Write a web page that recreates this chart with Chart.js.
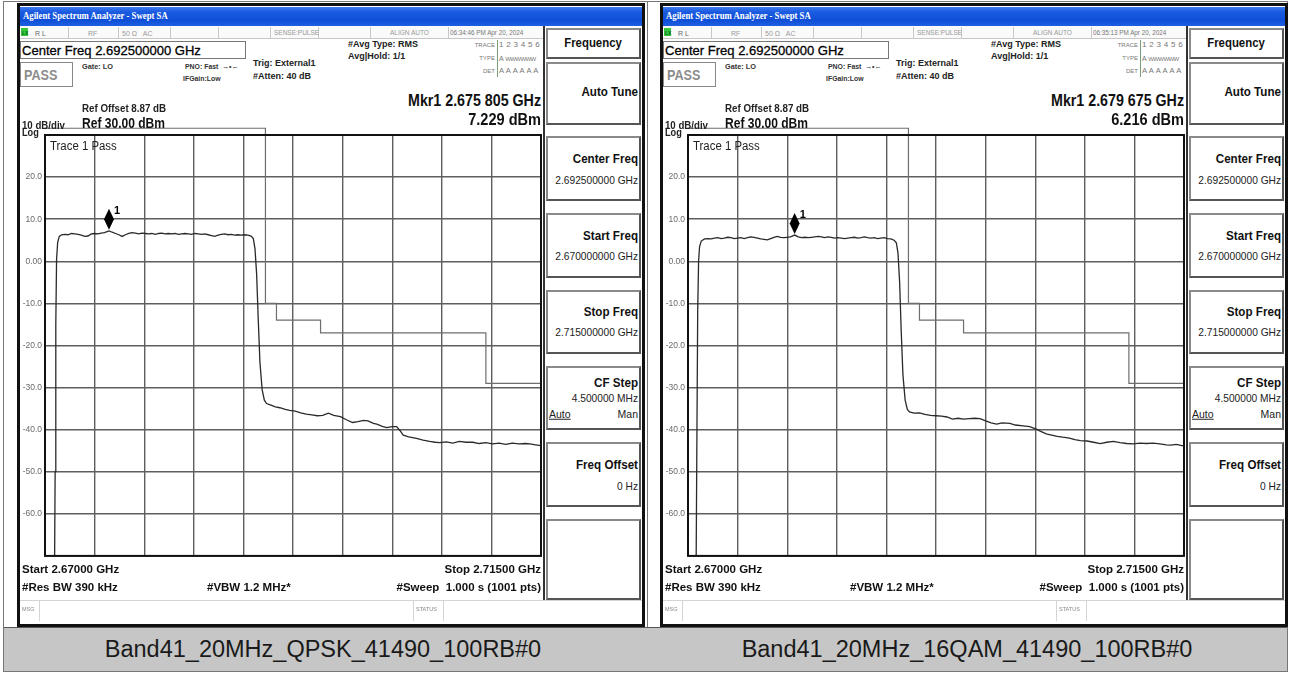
<!DOCTYPE html>
<html><head><meta charset="utf-8">
<script src="https://cdn.jsdelivr.net/npm/chart.js@4"></script>
<style>
html,body{margin:0;padding:0;background:#fff}
body{width:1290px;height:673px;position:relative;overflow:hidden;font-family:"Liberation Sans",Arial,sans-serif}
.a{position:absolute}
.t{position:absolute;white-space:nowrap;line-height:1;font-family:"Liberation Sans Narrow","Liberation Sans",Arial,sans-serif;font-weight:bold;color:#111}
.t span.s{display:inline-block}
.sk{position:absolute;box-sizing:border-box;border:2px solid #8a8a8a;border-right-color:#555;border-bottom-color:#555;background:#fff}
canvas{position:absolute;z-index:1}
.ov{z-index:2}
</style></head>
<body>
<script>
// ---------- data ----------
const xGridTicks = [2670, 2674.5, 2679, 2683.5, 2688, 2692.5, 2697, 2701.5, 2706, 2710.5, 2715];
const yGridTicks = [30, 20, 10, 0, -10, -20, -30, -40, -50, -60, -70];
const yTickLabels = ['', '20.0', '10.0', '0.00', '-10.0', '-20.0', '-30.0', '-40.0', '-50.0', '-60.0', ''];

const qpskFreq = [2670.0, 2670.85, 2670.92, 2670.98, 2671.05, 2671.15, 2671.3, 2671.5, 2671.8, 2672.1, 2672.4, 2672.7, 2673.0, 2673.3, 2673.6, 2673.9, 2674.2, 2674.5, 2674.8, 2675.1, 2675.4, 2675.8, 2676.1, 2676.4, 2676.7, 2677.0, 2677.3, 2677.6, 2677.9, 2678.2, 2678.5, 2678.8, 2679.1, 2679.4, 2679.7, 2680.0, 2680.3, 2680.6, 2680.9, 2681.2, 2681.5, 2681.8, 2682.1, 2682.4, 2682.7, 2683.0, 2683.3, 2683.6, 2683.9, 2684.2, 2684.5, 2684.8, 2685.1, 2685.4, 2685.7, 2686.0, 2686.3, 2686.6, 2686.9, 2687.2, 2687.5, 2687.8, 2688.1, 2688.4, 2688.7, 2688.9, 2689.05, 2689.2, 2689.35, 2689.5, 2689.7, 2689.9, 2690.1, 2690.5, 2690.9, 2691.3, 2691.8, 2692.2, 2692.7, 2693.2, 2693.7, 2694.2, 2694.7, 2695.2, 2695.7, 2696.2, 2696.8, 2697.3, 2697.9, 2698.4, 2698.9, 2699.3, 2699.8, 2700.1, 2700.6, 2701.0, 2701.5, 2701.9, 2702.2, 2702.5, 2703.0, 2703.7, 2704.3, 2704.9, 2705.4, 2705.8, 2706.4, 2707.0, 2707.6, 2708.2, 2708.8, 2709.4, 2710.0, 2710.6, 2711.2, 2711.8, 2712.4, 2713.0, 2713.6, 2714.0, 2714.5, 2715.0];
const qpskLevel = [-80, -80, -50, -15, 0.5, 4.5, 5.9, 6.3, 6.4, 6.3, 6.6, 6.5, 6.4, 6.2, 5.9, 6.0, 6.5, 6.6, 6.5, 6.7, 6.8, 7.23, 6.9, 6.6, 6.3, 5.9, 6.3, 6.6, 6.8, 6.7, 6.5, 6.7, 6.6, 6.5, 6.6, 6.4, 6.6, 6.7, 6.5, 6.6, 6.5, 6.6, 6.4, 6.5, 6.6, 6.5, 6.4, 6.6, 6.5, 6.4, 6.5, 6.3, 6.1, 5.9, 6.2, 6.4, 6.5, 6.3, 6.4, 6.2, 6.3, 6.2, 6.3, 6.2, 6.0, 5.4, 3.0, -3, -14, -24, -30.5, -33.0, -33.8, -34.2, -34.6, -34.8, -35.2, -35.4, -35.6, -36.0, -36.3, -36.5, -36.7, -36.6, -36.1, -36.6, -36.9, -37.6, -38.3, -38.1, -37.8, -37.9, -38.5, -38.7, -39.2, -39.5, -39.3, -39.3, -40.2, -41.3, -41.7, -42.1, -42.5, -42.8, -43.0, -43.1, -42.9, -43.2, -42.8, -43.0, -43.0, -43.3, -43.1, -43.4, -43.2, -43.5, -43.2, -43.4, -43.3, -43.4, -43.6, -43.8];

const qamFreq = [2670.0, 2670.72, 2670.8, 2670.88, 2670.96, 2671.05, 2671.2, 2671.5, 2671.8, 2672.1, 2672.4, 2672.7, 2673.0, 2673.3, 2673.6, 2673.9, 2674.2, 2674.5, 2674.8, 2675.1, 2675.4, 2675.7, 2676.0, 2676.3, 2676.6, 2676.9, 2677.2, 2677.5, 2677.8, 2678.1, 2678.4, 2678.7, 2679.0, 2679.3, 2679.68, 2680.0, 2680.3, 2680.6, 2680.9, 2681.2, 2681.5, 2681.8, 2682.1, 2682.4, 2682.7, 2683.0, 2683.3, 2683.6, 2683.9, 2684.2, 2684.5, 2684.8, 2685.1, 2685.4, 2685.7, 2686.0, 2686.3, 2686.6, 2686.9, 2687.2, 2687.5, 2687.8, 2688.1, 2688.4, 2688.7, 2688.9, 2689.05, 2689.2, 2689.35, 2689.5, 2689.7, 2689.9, 2690.1, 2690.5, 2691.0, 2691.5, 2692.0, 2692.5, 2693.0, 2693.5, 2694.0, 2694.5, 2695.0, 2695.5, 2696.0, 2696.5, 2697.0, 2697.5, 2698.0, 2698.5, 2699.2, 2699.7, 2700.4, 2701.0, 2701.6, 2702.0, 2702.5, 2703.0, 2703.5, 2704.0, 2704.6, 2705.1, 2705.6, 2706.2, 2706.8, 2707.4, 2708.0, 2708.6, 2709.2, 2709.8, 2710.4, 2711.0, 2711.6, 2712.2, 2712.8, 2713.4, 2713.8, 2714.3, 2714.8, 2715.0];
const qamLevel = [-80, -80, -45, -12, 0, 3.5, 4.8, 5.3, 5.4, 5.3, 5.5, 5.6, 5.4, 5.5, 5.7, 5.6, 5.4, 5.5, 5.6, 5.4, 5.6, 5.8, 5.7, 5.5, 5.3, 5.2, 5.1, 5.4, 5.7, 5.9, 5.7, 5.6, 5.7, 5.8, 6.22, 5.8, 5.6, 5.7, 5.6, 5.7, 5.8, 5.9, 5.8, 5.6, 5.8, 5.7, 5.5, 5.6, 5.5, 5.4, 5.5, 5.6, 5.7, 5.5, 5.6, 5.8, 5.6, 5.5, 5.6, 5.4, 5.5, 5.6, 5.4, 5.3, 5.0, 4.4, 2.0, -5, -17, -27, -33, -35.2, -35.8, -36.1, -36.0, -36.4, -36.6, -36.7, -36.8, -37.0, -37.5, -37.3, -37.5, -37.4, -37.3, -37.4, -37.9, -38.4, -38.7, -38.4, -38.5, -38.9, -39.1, -39.3, -39.9, -40.4, -41.0, -41.3, -41.6, -41.8, -42.0, -42.4, -42.6, -42.7, -43.0, -43.3, -43.0, -42.8, -43.1, -43.3, -43.4, -43.2, -43.3, -43.2, -43.4, -43.6, -43.7, -43.5, -43.8, -43.8];

const limitFreq = [2670, 2690, 2690, 2691, 2691, 2695, 2695, 2710, 2710, 2715];
const limitLevel = [31.6, 31.6, -10, -10, -14, -14, -17, -17, -29, -29];

const markerFreq = [2675.805, 2679.675];
const markerLevel = [7.229, 6.216];
const markerFreqText = ['Mkr1 2.675 805 GHz', 'Mkr1 2.679 675 GHz'];
const markerLevelText = ['7.229 dBm', '6.216 dBm'];
const timestamps = ['06:34:46 PM Apr 20, 2024', '06:35:13 PM Apr 20, 2024'];
const captions = ['Band41_20MHz_QPSK_41490_100RB#0', 'Band41_20MHz_16QAM_41490_100RB#0'];
const traces = [[qpskFreq, qpskLevel], [qamFreq, qamLevel]];
const panelShift = [0, 643];

// ---------- helpers ----------
function el(cls, css, html) {
  const d = document.createElement('div');
  d.className = cls;
  d.style.cssText = css;
  if (html !== undefined) d.innerHTML = html;
  document.body.appendChild(d);
  return d;
}
// text placed with vertical centre at y; align l / r / c; sx = horizontal squeeze
function tx(x, y, s, size, align, extra, sx) {
  const ax = align === 'r' ? '-100%' : (align === 'c' ? '-50%' : '0');
  const org = align === 'r' ? 'right' : (align === 'c' ? 'center' : 'left');
  const k = sx || 1;
  return el('t ov', `left:${x}px;top:${y}px;font-size:${size}px;transform:translate(${ax},-50%);${extra||''}`,
    `<span class="s" style="transform:scaleX(${k});transform-origin:${org} center">${s}</span>`);
}
const thin = 'font-weight:normal;color:#888;font-family:"Liberation Sans",Arial;';

// table frame
el('a', 'left:3px;top:1px;width:1283px;height:669px;border:1px solid #777;');
el('a', 'left:647px;top:1px;width:1px;height:670px;background:#777;');
el('a', 'left:4px;top:627px;width:1283px;height:43px;background:#c6c6c6;border-top:1px solid #555;');

const markerPlugin = {
  id: 'mkr',
  afterDatasetsDraw(chart, args, opts) {
    const c = chart.ctx, a = chart.chartArea;
    c.save();
    c.strokeStyle = '#111'; c.lineWidth = 2;
    c.strokeRect(a.left, a.top, a.right - a.left, a.bottom - a.top);
    const i = opts.index;
    const x = chart.scales.x.getPixelForValue(markerFreq[i]);
    const y = chart.scales.y.getPixelForValue(markerLevel[i]);
    c.fillStyle = '#000';
    c.beginPath();
    c.moveTo(x, y - 1);
    c.lineTo(x + 5, y - 11.5);
    c.lineTo(x, y - 22);
    c.lineTo(x - 5, y - 11.5);
    c.closePath();
    c.fill();
    c.font = 'bold 11px "Liberation Sans",Arial';
    c.textBaseline = 'middle';
    c.fillText('1', x + 5, y - 20);
    c.restore();
  }
};

panelShift.forEach((S, p) => {
  // screen frame
  el('a', `left:${S+17}px;top:3px;width:622px;height:618px;border:3px solid #111;background:#fff;`);
  // title bar
  el('a', `left:${S+20}px;top:7px;width:622px;height:19px;background:linear-gradient(to bottom,#3d7cf0 0%,#1b5be0 25%,#0f4fd8 70%,#1f5fe0 100%);`);
  tx(S+23, 16.5, 'Agilent Spectrum Analyzer - Swept SA', 9.5, 'l', 'color:#fff;font-family:"Liberation Serif",serif;font-weight:bold;', 0.92);
  // status row
  el('a', `left:${S+20}px;top:26px;width:523px;height:12px;background:#fafafa;border-bottom:1px solid #c8c8c8;`);
  [68,118,170,218,270,318,370,448].forEach(v => el('a', `left:${S+v}px;top:27px;width:1px;height:11px;background:#c8c8c8;`));
  el('a ov', `left:${S+21}px;top:28px;width:7px;height:8px;background:#37c837;`);
  tx(S+22, 32.5, 'LX', 5, 'l', 'color:#063;font-family:Arial;');
  tx(S+35, 32.5, 'R L', 7, 'l', thin + 'color:#666;');
  tx(S+88, 32.5, 'RF', 7, 'l', thin + 'color:#999;');
  tx(S+122, 32.5, '50 Ω &nbsp; AC', 7, 'l', thin + 'color:#999;');
  tx(S+274, 32.5, 'SENSE:PULSE', 6.5, 'l', thin + 'color:#999;');
  tx(S+390, 32.5, 'ALIGN AUTO', 6.5, 'l', thin + 'color:#999;');
  tx(S+450, 32.5, timestamps[p], 6.5, 'l', thin + 'color:#777;', 0.97);
  // center freq box
  el('a ov', `left:${S+20}px;top:41px;width:226px;height:18px;border:1px solid #777;box-sizing:border-box;`);
  tx(S+22, 50.5, 'Center Freq 2.692500000 GHz', 13.5, 'l', 'font-family:"Liberation Sans",Arial;font-weight:normal;color:#000;-webkit-text-stroke:0.3px #000;', 0.965);
  // PASS box
  el('a ov', `left:${S+20}px;top:62px;width:53px;height:25px;border:1px solid #888;box-sizing:border-box;`);
  tx(S+24, 74.5, 'PASS', 14, 'l', 'color:#8c8c8c;', 0.9);
  tx(S+82, 67, 'Gate: LO', 8, 'l', 'color:#333;', 0.92);
  tx(S+185, 67, 'PNO: Fast &nbsp;→•←', 7.5, 'l', 'color:#333;', 0.92);
  tx(S+183, 79, 'IFGain:Low', 7.5, 'l', 'color:#333;', 0.92);
  tx(S+253, 63, 'Trig: External1', 9, 'l', 'color:#222;');
  tx(S+253, 75.5, '#Atten: 40 dB', 9, 'l', 'color:#222;');
  tx(S+348, 44, '#Avg Type: RMS', 9, 'l', 'color:#222;');
  tx(S+348, 56, 'Avg|Hold: 1/1', 9, 'l', 'color:#222;');
  // trace block
  el('a ov', `left:${S+497}px;top:40px;width:1px;height:37px;background:#7aa07a;`);
  tx(S+495, 45, 'TRACE', 6, 'r', thin + 'color:#777;');
  tx(S+499, 45, '1 2 3 4 5 6', 8, 'l', thin + 'color:#777;letter-spacing:0.3px;');
  tx(S+495, 58, 'TYPE', 6, 'r', thin + 'color:#777;');
  tx(S+499, 58, 'A <span style="font-size:6px;letter-spacing:-0.6px">WWWWWW</span>', 7, 'l', thin + 'color:#777;');
  tx(S+495, 71, 'DET', 6, 'r', thin + 'color:#777;');
  tx(S+499, 71, 'A A A A A A', 7.5, 'l', thin + 'color:#777;letter-spacing:0.3px;');
  // marker readout
  tx(S+541, 101, markerFreqText[p], 16, 'r', 'color:#111;', 0.89);
  tx(S+541, 120, markerLevelText[p], 16, 'r', 'color:#111;', 0.91);
  // ref info
  tx(S+82, 108, 'Ref Offset 8.87 dB', 10.5, 'l', 'color:#222;', 0.93);
  tx(S+22, 124.5, '10 dB/div', 10.5, 'l', 'color:#222;', 0.92);
  tx(S+82, 123, 'Ref 30.00 dBm', 14, 'l', 'color:#111;', 0.86);
  tx(S+22, 133, 'Log', 10, 'l', 'color:#222;', 0.92);
  tx(S+50, 146, 'Trace 1 Pass', 12, 'l', 'font-weight:normal;color:#222;', 0.95);
  // bottom info
  tx(S+22, 569.5, 'Start 2.67000 GHz', 11.5, 'l', 'color:#111;');
  tx(S+22, 588, '#Res BW 390 kHz', 11.5, 'l', 'color:#111;');
  tx(S+207, 588, '#VBW 1.2 MHz*', 11.5, 'l', 'color:#111;');
  tx(S+541, 569.5, 'Stop 2.71500 GHz', 11.5, 'r', 'color:#111;');
  tx(S+541, 588, '#Sweep &nbsp;1.000 s (1001 pts)', 11.5, 'r', 'color:#111;');
  // MSG bar
  el('a ov', `left:${S+20}px;top:600px;width:622px;height:1px;background:#d4d4d4;`);
  el('a ov', `left:${S+39}px;top:600px;width:1px;height:21px;background:#d4d4d4;`);
  el('a ov', `left:${S+413}px;top:600px;width:1px;height:21px;background:#d4d4d4;`);
  el('a ov', `left:${S+443}px;top:600px;width:1px;height:21px;background:#d4d4d4;`);
  tx(S+22, 610, 'MSG', 5.5, 'l', thin);
  tx(S+416, 610, 'STATUS', 5.5, 'l', thin);
  // softkey column
  el('a ov', `left:${S+543}px;top:26px;width:2px;height:574px;background:#333;`);
  const keys = [
    {y:28, h:31, title:'Frequency', ty:43, center:true},
    {y:62, h:63, title:'Auto Tune', ty:92},
    {y:136, h:65, title:'Center Freq', ty:159, val:'2.692500000 GHz', vy:180},
    {y:213, h:65, title:'Start Freq', ty:236, val:'2.670000000 GHz', vy:256},
    {y:290, h:64, title:'Stop Freq', ty:312, val:'2.715000000 GHz', vy:332},
    {y:366, h:64, title:'CF Step', ty:383, val:'4.500000 MHz', vy:398, auto:true},
    {y:442, h:65, title:'Freq Offset', ty:465, val:'0 Hz', vy:486},
    {y:519, h:81}
  ];
  keys.forEach(k => {
    el('sk ov', `left:${S+546}px;top:${k.y}px;width:95px;height:${k.h}px;`);
    if (k.title) {
      if (k.center) tx(S+593, k.ty, k.title, 12, 'c', 'color:#111;', 0.95);
      else tx(S+638, k.ty, k.title, 12.5, 'r', 'color:#111;', 0.93);
    }
    if (k.val) tx(S+638, k.vy, k.val, 10.5, 'r', 'font-weight:normal;color:#222;', 0.97);
    if (k.auto) {
      tx(S+549, 414, '<u>Auto</u>', 10.5, 'l', 'font-weight:normal;color:#222;');
      tx(S+638, 414, 'Man', 10.5, 'r', 'font-weight:normal;color:#222;');
    }
  });
  // caption
  tx(S + (p === 0 ? 323 : 324), 650, captions[p], 23.5, 'c', 'font-family:"Liberation Sans",Arial;font-weight:normal;color:#1a1a1a;');

  // chart canvas
  const cv = document.createElement('canvas');
  cv.width = 527; cv.height = 440;
  cv.style.left = (S + 18) + 'px'; cv.style.top = '124px';
  document.body.appendChild(cv);
  const [fr, lv] = traces[p];
  new Chart(cv.getContext('2d'), {
    type: 'line',
    data: {
      datasets: [
        {data: fr.map((f, i) => ({x: f, y: lv[i]})), borderColor: '#2a2a2a', borderWidth: 1.3, pointRadius: 0, tension: 0},
        {data: limitFreq.map((f, i) => ({x: f, y: limitLevel[i]})), borderColor: '#6e6e6e', borderWidth: 1.2, pointRadius: 0, tension: 0, clip: false}
      ]
    },
    options: {
      responsive: false, animation: false, devicePixelRatio: 1,
      layout: {padding: {top: 11, right: 4, bottom: 6, left: 0}},
      plugins: {legend: {display: false}, tooltip: {enabled: false}, mkr: {index: p}},
      scales: {
        x: {
          type: 'linear', min: 2670, max: 2715,
          afterBuildTicks: s => { s.ticks = xGridTicks.map(v => ({value: v})); },
          afterFit: s => { s.height = 0; },
          ticks: {display: false},
          grid: {color: '#5e5e5e', lineWidth: 1.4, drawTicks: false},
          border: {display: false}
        },
        y: {
          type: 'linear', min: -70, max: 30,
          afterBuildTicks: s => { s.ticks = yGridTicks.map(v => ({value: v})); },
          afterFit: s => { s.width = 27; },
          ticks: {
            callback: v => yTickLabels[yGridTicks.indexOf(v)],
            font: {size: 8.5, family: '"Liberation Sans",Arial'},
            color: '#6a6a6a', padding: 3
          },
          grid: {color: '#5e5e5e', lineWidth: 1.4, drawTicks: false},
          border: {display: false}
        }
      }
    },
    plugins: [markerPlugin]
  });
});
</script>
</body></html>
